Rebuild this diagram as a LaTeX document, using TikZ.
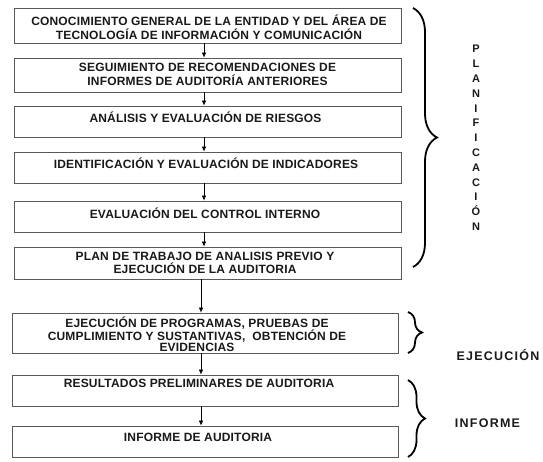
\documentclass[tikz,border=0pt]{standalone}
\usepackage{fontspec}
\setmainfont{Liberation Sans}
\usetikzlibrary{arrows.meta,decorations.pathreplacing}
\begin{document}
\begin{tikzpicture}[x=1pt,y=-1pt,
  box/.style={draw=black!65, line width=0.8pt, rectangle, inner sep=0pt, minimum width=387pt},
  txt/.style={font=\bfseries\fontsize{12}{13.5}\selectfont\addfontfeature{LetterSpace=1.5}, align=center, inner sep=0pt, text=black!90},
  arr/.style={draw=black, line width=0.7pt, -{Latex[length=5pt,width=4.5pt]}},
  brc/.style={draw=black, line width=1.8pt, decorate},
  lbl/.style={font=\bfseries\fontsize{12.5}{14}\selectfont\addfontfeature{LetterSpace=10}, inner sep=0pt, text=black!90}]
\useasboundingbox (0,0) rectangle (543,462);
% boxes
\node[box, minimum height=35pt] (b1) at (207.5,25.5) {};
\node[box, minimum height=34pt] (b2) at (207.5,75) {};
\node[box, minimum height=31pt] (b3) at (207.5,121.5) {};
\node[box, minimum height=31pt] (b4) at (207.5,167.5) {};
\node[box, minimum height=31pt] (b5) at (207.5,216.5) {};
\node[box, minimum height=32pt] (b6) at (207.5,263) {};
\node[box, minimum width=386pt, minimum height=40pt] (b7) at (205,333) {};
\node[box, minimum width=386pt, minimum height=31pt] (b8) at (205,390.5) {};
\node[box, minimum width=386pt, minimum height=31pt] (b9) at (205,441.5) {};
% texts
\node[txt] (t1) at (209,27) {CONOCIMIENTO GENERAL DE LA ENTIDAD Y DEL ÁREA DE\\TECNOLOGÍA DE INFORMACIÓN Y COMUNICACIÓN};
\node[txt] (t2) at (207.5,74.5) {SEGUIMIENTO DE RECOMENDACIONES DE\\INFORMES DE AUDITORÍA ANTERIORES};
\node[txt] (t3) at (205.5,117) {ANÁLISIS Y EVALUACIÓN DE RIESGOS};
\node[txt] (t4) at (206,163) {IDENTIFICACIÓN Y EVALUACIÓN DE INDICADORES};
\node[txt] (t5) at (205,213) {EVALUACIÓN DEL CONTROL INTERNO};
\node[txt, font=\bfseries\fontsize{12}{12.5}\selectfont\addfontfeature{LetterSpace=1.5}] (t6) at (205,263) {PLAN DE TRABAJO DE ANALISIS PREVIO Y\\EJECUCIÓN DE LA AUDITORIA};
\node[txt, font=\bfseries\fontsize{12}{11}\selectfont\addfontfeature{LetterSpace=1.5}] (t7) at (197,334) {EJECUCIÓN DE PROGRAMAS, PRUEBAS DE\\CUMPLIMIENTO Y SUSTANTIVAS,\ \ OBTENCIÓN DE\\EVIDENCIAS};
\node[txt] (t8) at (199,383) {RESULTADOS PRELIMINARES DE AUDITORIA};
\node[txt] (t9) at (198,437) {INFORME DE AUDITORIA};
% arrows
\draw[arr] ([xshift=-3.5pt]b1.south) -- ([xshift=-3.5pt]b2.north);
\draw[arr] ([xshift=-3.5pt]b2.south) -- ([xshift=-3.5pt]b3.north);
\draw[arr] ([xshift=-3.5pt]b3.south) -- ([xshift=-3.5pt]b4.north);
\draw[arr] ([xshift=-3.5pt]b4.south) -- ([xshift=-3.5pt]b5.north);
\draw[arr] ([xshift=-3.5pt]b5.south) -- ([xshift=-3.5pt]b6.north);
\draw[arr] ([xshift=-6.5pt]b6.south) -- ([xshift=-4pt]b7.north);
\draw[arr] ([xshift=-4pt]b7.south) -- ([xshift=-4pt]b8.north);
\draw[arr] ([xshift=-4pt]b8.south) -- ([xshift=-4pt]b9.north);
% braces
\coordinate (p1) at (413,8);
\coordinate (p2) at (413,267);
\draw[brc, decoration={brace, amplitude=24pt}] (p1) -- (p2);
\coordinate (e1) at (408,312);
\coordinate (e2) at (408,353);
\draw[brc, decoration={brace, amplitude=14pt}] (e1) -- (e2);
\coordinate (i1) at (408,380);
\coordinate (i2) at (408,457);
\draw[brc, decoration={brace, amplitude=17pt}] (i1) -- (i2);
% labels
\node[font=\bfseries\fontsize{11}{14.8}\selectfont, align=center, inner sep=0pt, text=black!90] (plan) at (476,138) {P\\L\\A\\N\\I\\F\\I\\C\\A\\C\\I\\Ó\\N};
\node[lbl] (ej) at (498,355) {EJECUCIÓN};
\node[lbl] (inf) at (487.5,423) {INFORME};
\end{tikzpicture}
\end{document}
